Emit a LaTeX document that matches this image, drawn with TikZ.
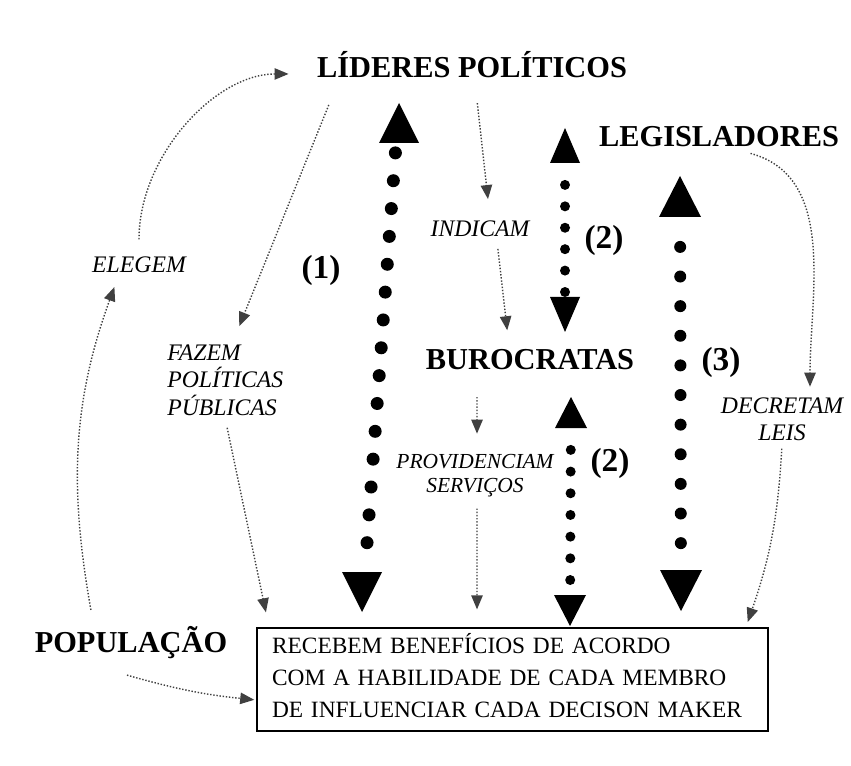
\documentclass[tikz,border=0pt]{standalone}
\usepackage{fontspec}
\setmainfont{Liberation Serif}
\usetikzlibrary{arrows.meta,calc}

\tikzset{
  ator/.style={font=\fontsize{17.3}{20}\selectfont\bfseries, inner sep=2pt, anchor=base},
  acao/.style={font=\fontsize{13.5}{15.6}\selectfont\itshape, inner sep=2pt},
  numero/.style={font=\fontsize{19}{22}\selectfont\bfseries},
  fluxo/.style={densely dotted, line width=0.8pt, draw=black!75, -{Triangle[width=6.5pt,length=8pt]}},
  caixa/.style={draw, line width=1.2pt, minimum width=10.22cm, minimum height=2.06cm,
    text width=9.62cm, align=left, inner xsep=0.3cm, inner ysep=0pt,
    font=\fontsize{13.3}{18.1}\selectfont},
}

\begin{document}
\begin{tikzpicture}[x=0.02cm, y=-0.02cm]
	\useasboundingbox (0,0) rectangle (851,766);
	% atores
	\node[ator] (lideres) at (472,78) {LÍDERES POLÍTICOS};
	\node[ator] (legis) at (719,147) {LEGISLADORES};
	\node[ator] (buro) at (530,370) {BUROCRATAS};
	\node[ator] (pop) at (131,652) {POPULAÇÃO};
	\node[caixa] (caixa) at (512.5,679.5) {RECEBEM BENEFÍCIOS DE ACORDO\\COM A HABILIDADE DE CADA MEMBRO\\DE INFLUENCIAR CADA DECISON MAKER\rule[-0.16cm]{0pt}{0pt}};
	% acoes
	\node[acao] (elegem) at (139,273) [anchor=base] {ELEGEM};
	\node[acao] (indicam) at (480,237) [anchor=base] {INDICAM};
	\node[acao, align=left, anchor=west] (fazem) at (163.5,380) {FAZEM\\POLÍTICAS\\PÚBLICAS};
	\node[acao, align=center, font=\fontsize{12.2}{13.6}\selectfont\itshape] (provid) at (475,475.5) {PROVIDENCIAM\\SERVIÇOS};
	\node[acao, align=center, font=\fontsize{13.5}{15.3}\selectfont\itshape] (decretam) at (782,419) {DECRETAM\\LEIS};
	% numeros
	\node[numero] (n1) at (321,270) {(1)};
	\node[numero] (n2a) at (604,240) {(2)};
	\node[numero] (n2b) at (610,463) {(2)};
	\node[numero] (n3) at (721,362) {(3)};

	\draw[fluxo, shorten <=8pt, shorten >=14pt] (elegem.north) to[out=90,in=180] (lideres.mid west);
	\draw[fluxo, shorten <=7pt, shorten >=6pt] ([xshift=-0.76cm]pop.north) to[out=100,in=-110] ([xshift=-0.42cm]elegem.south);
	\draw[fluxo, shorten <=14pt, shorten >=9pt] ([xshift=-2.68cm]lideres.south) -- ([xshift=0.16cm]fazem.north);
	\draw[fluxo, shorten <=5pt, shorten >=8.5pt] (fazem.south) -- ([xshift=0.26cm]caixa.north west);
	\draw[fluxo, shorten <=12pt, shorten >=10.5pt] ([xshift=0.06cm]lideres.south) -- ([xshift=0.2cm]indicam.north);
	\draw[fluxo, shorten <=4.5pt, shorten >=9pt] ([xshift=0.34cm]indicam.south) -- ([xshift=-0.42cm]buro.north);
	\draw[fluxo, shorten <=13pt, shorten >=9.5pt] ([xshift=-1.06cm]buro.south) -- ([xshift=0.04cm]provid.north);
	\draw[fluxo, shorten <=4.5pt, shorten >=10pt] ([xshift=0.04cm]provid.south) -- ([xshift=-0.71cm]caixa.north);
	\draw[fluxo, shorten <=5pt, shorten >=4pt] ([xshift=0.46cm]legis.south) to[out=-15,in=90] ([xshift=0.56cm]decretam.north);
	\draw[fluxo, shorten <=2.5pt, shorten >=3pt] (decretam.south) to[bend left=8] ([xshift=-0.46cm]caixa.north east);
	\draw[fluxo, shorten >=1pt] ([xshift=-0.08cm,yshift=-0.26cm]pop.south) to[bend right=5] ([yshift=-0.41cm]caixa.west);

	% setas pontilhadas (1), (2), (2), (3)
	\coordinate (p1a) at (399,103);
	\coordinate (p1b) at (362,612);
	\fill (p1a) -- ++(-20,40) -- ++(40,0) -- cycle;
	\fill (p1b) -- ++(-20,-40) -- ++(40,0) -- cycle;
	\foreach \i in {0,...,14}
		\fill ($(p1a)!0.098+0.0547*\i!(p1b)$) circle (0.13cm);

	\coordinate (p2a) at (565,128);
	\coordinate (p2b) at (565,332);
	\fill (p2a) -- ++(-15,35) -- ++(30,0) -- cycle;
	\fill (p2b) -- ++(-15,-35) -- ++(30,0) -- cycle;
	\foreach \i in {0,...,5}
		\fill ($(p2a)!0.279+0.105*\i!(p2b)$) circle (0.1cm);

	\coordinate (p3a) at (571,397);
	\coordinate (p3b) at (570,626);
	\fill (p3a) -- ++(-16,31) -- ++(32,0) -- cycle;
	\fill (p3b) -- ++(-16,-31) -- ++(32,0) -- cycle;
	\foreach \i in {0,...,6}
		\fill ($(p3a)!0.231+0.0947*\i!(p3b)$) circle (0.1cm);

	\coordinate (p4a) at (680,176);
	\coordinate (p4b) at (681,611);
	\fill (p4a) -- ++(-21,41) -- ++(42,0) -- cycle;
	\fill (p4b) -- ++(-21,-41) -- ++(42,0) -- cycle;
	\foreach \i in {0,...,10}
		\fill ($(p4a)!0.163+0.0681*\i!(p4b)$) circle (0.12cm);
\end{tikzpicture}
\end{document}
